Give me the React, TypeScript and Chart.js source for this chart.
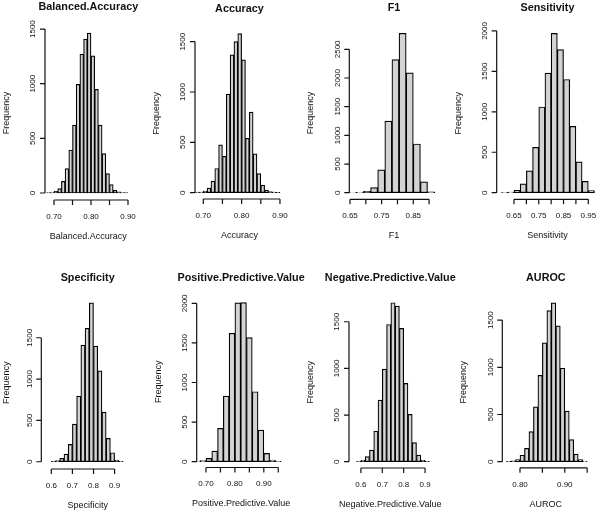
import React, { useEffect, useRef } from 'react';
import { Chart, registerables } from 'chart.js';

Chart.register(...registerables);

// ---------- data ----------
const panelTitles = [
  'Balanced.Accuracy', 'Accuracy', 'F1', 'Sensitivity',
  'Specificity', 'Positive.Predictive.Value', 'Negative.Predictive.Value', 'AUROC',
];

// histogram breaks: first break and bin width of each panel
const breakStarts = [0.68, 0.68, 0.6475, 0.6, 0.6, 0.66, 0.58, 0.77];
const binWidths = [0.01, 0.01, 0.0225, 0.025, 0.02, 0.02, 0.02, 0.01];

const balancedAccuracyCounts = [3, 5, 15, 40, 107, 223, 392, 621, 995, 1270, 1408, 1463, 1255, 949, 621, 361, 178, 77, 25, 10, 5, 3];
const accuracyCounts = [5, 5, 15, 45, 115, 240, 475, 360, 980, 1370, 1500, 1580, 1320, 540, 800, 385, 190, 75, 25, 10, 5, 3];
const f1Counts = [2, 5, 25, 90, 400, 1250, 2320, 2780, 2090, 850, 190, 15];
const sensitivityCounts = [3, 8, 30, 110, 270, 560, 1060, 1480, 1970, 1770, 1400, 820, 380, 140, 25];
const specificityCounts = [5, 15, 40, 93, 210, 456, 794, 1411, 1613, 1923, 1399, 1100, 600, 282, 109, 20, 5];
const ppvCounts = [3, 15, 42, 135, 421, 829, 1621, 2005, 2010, 1566, 884, 400, 105, 21, 5];
const npvCounts = [4, 18, 54, 125, 329, 661, 993, 1471, 1704, 1668, 1429, 839, 507, 204, 71, 18, 4];
const aurocCounts = [3, 8, 22, 68, 140, 318, 580, 915, 1260, 1600, 1682, 1440, 990, 535, 233, 80, 22, 5];

const yTicksA = [0, 500, 1000, 1500];
const yTicksB = [0, 500, 1000, 1500, 2000];
const yTicksC = [0, 500, 1000, 1500, 2000, 2500];

const xTicks1 = [0.7, 0.75, 0.8, 0.85, 0.9];
const xTickLabels1 = ['0.70', '', '0.80', '', '0.90'];
const xTicksF1 = [0.65, 0.7, 0.75, 0.8, 0.85, 0.9];
const xTickLabelsF1 = ['0.65', '', '0.75', '', '0.85', ''];
const xTicksSens = [0.65, 0.7, 0.75, 0.8, 0.85, 0.9, 0.95];
const xTickLabelsSens = ['0.65', '', '0.75', '', '0.85', '', '0.95'];
const xTicksTenths = [0.6, 0.7, 0.8, 0.9];
const xTickLabelsTenths = ['0.6', '0.7', '0.8', '0.9'];
const xTicksPpv = [0.7, 0.75, 0.8, 0.85, 0.9, 0.95];
const xTickLabelsPpv = ['0.70', '', '0.80', '', '0.90', ''];
const xTicksAuroc = [0.8, 0.85, 0.9, 0.95];
const xTickLabelsAuroc = ['0.80', '', '0.90', ''];

const panelCounts = [
  balancedAccuracyCounts, accuracyCounts, f1Counts, sensitivityCounts,
  specificityCounts, ppvCounts, npvCounts, aurocCounts,
];
const panelYTicks = [yTicksA, yTicksA, yTicksC, yTicksB, yTicksA, yTicksB, yTicksA, yTicksA];
const panelXTicks = [xTicks1, xTicks1, xTicksF1, xTicksSens, xTicksTenths, xTicksPpv, xTicksTenths, xTicksAuroc];
const panelXTickLabels = [
  xTickLabels1, xTickLabels1, xTickLabelsF1, xTickLabelsSens,
  xTickLabelsTenths, xTickLabelsPpv, xTickLabelsTenths, xTickLabelsAuroc,
];
const xRanges: [number, number][] = [
  [0.6757, 0.91], [0.6784, 0.91], [0.6478, 0.93], [0.5802, 0.99],
  [0.5526, 0.9919], [0.6679, 0.975], [0.5444, 0.93], [0.7605, 0.955],
];
const yRanges: [number, number][] = [
  [-64, 1530], [-63, 1643], [-115, 2891], [-82, 2049],
  [-88, 2000], [-73, 2090], [-67.5, 1772], [-65, 1747],
];

// ---------- layout (plot regions on the 600x513 page) ----------
const W = 600;
const H = 513;
const plotBoxes = [
  { left: 45, top: 25.8, right: 131.7, bottom: 200 },
  { left: 195, top: 27.3, right: 283.8, bottom: 199 },
  { left: 349.3, top: 26.9, right: 438.6, bottom: 199.3 },
  { left: 496.7, top: 27, right: 598.2, bottom: 199.3 },
  { left: 41.3, top: 296.4, right: 134, bottom: 469 },
  { left: 196.7, top: 296.2, right: 285.5, bottom: 467.5 },
  { left: 349, top: 296.4, right: 431.5, bottom: 468 },
  { left: 502.3, top: 296.8, right: 589.4, bottom: 467.8 },
];

const FONT = '"Liberation Sans", Arial, Helvetica, sans-serif';
const INK = '#111111';

function makeRAxesPlugin(i: number) {
  return {
    id: 'rAxes' + i,
    afterDraw(chart: any) {
      const ctx = chart.ctx as CanvasRenderingContext2D;
      const a = chart.chartArea;
      const xs = chart.scales.x;
      const ys = chart.scales.y;
      const yTicks = panelYTicks[i];
      const xTicks = panelXTicks[i];
      const xLabels = panelXTickLabels[i];
      ctx.save();
      ctx.strokeStyle = INK;
      ctx.fillStyle = INK;
      ctx.lineWidth = 1.2;
      ctx.beginPath();
      // y axis (R style: from first to last tick)
      ctx.moveTo(a.left, ys.getPixelForValue(yTicks[0]));
      ctx.lineTo(a.left, ys.getPixelForValue(yTicks[yTicks.length - 1]));
      yTicks.forEach((v) => {
        const y = ys.getPixelForValue(v);
        ctx.moveTo(a.left, y);
        ctx.lineTo(a.left - 5, y);
      });
      // x axis
      ctx.moveTo(xs.getPixelForValue(xTicks[0]), a.bottom);
      ctx.lineTo(xs.getPixelForValue(xTicks[xTicks.length - 1]), a.bottom);
      xTicks.forEach((v) => {
        const x = xs.getPixelForValue(v);
        ctx.moveTo(x, a.bottom);
        ctx.lineTo(x, a.bottom + 5);
      });
      ctx.stroke();

      ctx.textAlign = 'center';
      ctx.textBaseline = 'middle';
      ctx.font = `8px ${FONT}`;
      xTicks.forEach((v, k) => {
        if (xLabels[k]) ctx.fillText(xLabels[k], xs.getPixelForValue(v), a.bottom + 16.5);
      });
      yTicks.forEach((v) => {
        ctx.save();
        ctx.translate(a.left - 12, ys.getPixelForValue(v));
        ctx.rotate(-Math.PI / 2);
        ctx.fillText(String(v), 0, 0);
        ctx.restore();
      });

      ctx.font = `9px ${FONT}`;
      ctx.fillText(panelTitles[i], (a.left + a.right) / 2, a.bottom + 36.5);
      ctx.save();
      ctx.translate(Math.max(a.left - 38.5, 6.5), (a.top + a.bottom) / 2);
      ctx.rotate(-Math.PI / 2);
      ctx.fillText('Frequency', 0, 0);
      ctx.restore();

      ctx.font = `bold 10.8px ${FONT}`;
      ctx.fillText(panelTitles[i], (a.left + a.right) / 2, a.top - 18.5);
      ctx.restore();
    },
  };
}

function HistPanel({ index }: { index: number }) {
  const ref = useRef<HTMLCanvasElement | null>(null);
  useEffect(() => {
    if (!ref.current) return;
    const counts = panelCounts[index];
    const start = breakStarts[index];
    const bw = binWidths[index];
    const points = counts.map((c, k) => ({
      x: Math.round((start + (k + 0.5) * bw) * 1e6) / 1e6,
      y: c,
    }));
    const box = plotBoxes[index];
    const chart = new Chart(ref.current, {
      type: 'bar',
      data: {
        datasets: [
          {
            data: points as any,
            backgroundColor: '#d3d3d3',
            borderColor: '#000000',
            borderWidth: 1.2,
            borderSkipped: false,
            barPercentage: 1,
            categoryPercentage: 1,
            base: 0,
          } as any,
        ],
      },
      options: {
        responsive: false,
        maintainAspectRatio: false,
        animation: false,
        events: [],
        layout: {
          padding: {
            left: box.left,
            top: box.top,
            right: W - box.right,
            bottom: H - box.bottom,
          },
        },
        plugins: {
          legend: { display: false },
          tooltip: { enabled: false },
          title: { display: false },
        },
        scales: {
          x: {
            type: 'linear',
            display: false,
            offset: false,
            min: xRanges[index][0],
            max: xRanges[index][1],
          },
          y: {
            type: 'linear',
            display: false,
            min: yRanges[index][0],
            max: yRanges[index][1],
          },
        },
      } as any,
      plugins: [makeRAxesPlugin(index)],
    });
    return () => chart.destroy();
  }, [index]);
  return (
    <canvas
      ref={ref}
      width={W}
      height={H}
      style={{ position: 'absolute', left: 0, top: 0, width: W, height: H }}
    />
  );
}

export default function App() {
  return (
    <div style={{ position: 'absolute', left: 0, top: 0, width: W, height: H, background: '#ffffff' }}>
      {panelTitles.map((_, i) => (
        <HistPanel key={i} index={i} />
      ))}
    </div>
  );
}
